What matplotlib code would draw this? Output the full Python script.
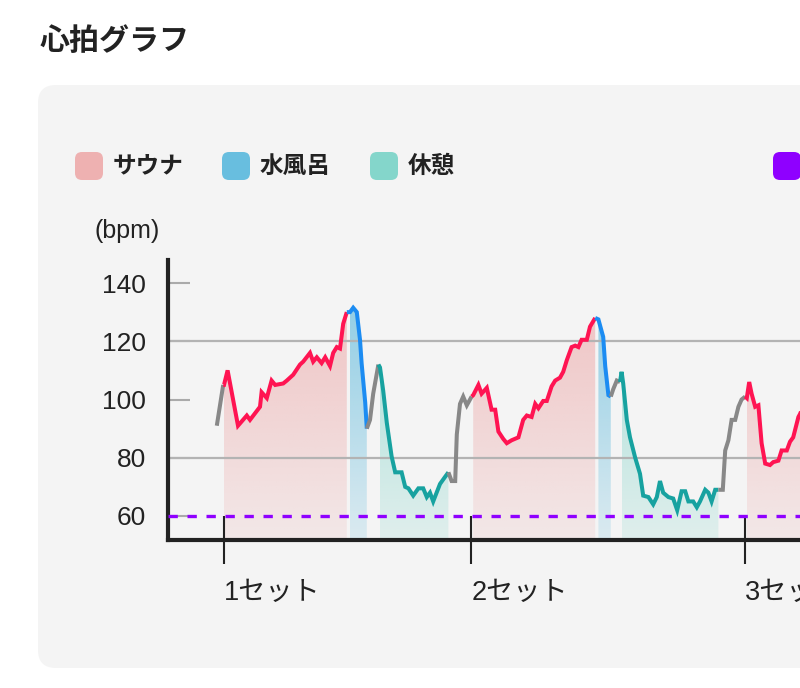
import matplotlib
matplotlib.use("Agg")
import matplotlib.pyplot as plt
import matplotlib.patches as mpatches
from matplotlib.transforms import IdentityTransform
from matplotlib.colors import to_rgb
import numpy as np

plt.rcParams['font.family'] = ['Liberation Sans', 'Noto Sans CJK JP']
JP = ['Noto Sans CJK JP', 'DejaVu Sans']

# heart rate samples (minutes from start, bpm)
minutes = [
    12.2, 13.8,
    14.0, 14.9, 17.5, 19.7, 20.5, 23.0, 23.4, 24.7, 25.9, 26.8, 28.8, 29.7, 31.3,
    33.0, 33.8, 35.5, 36.3, 37.2, 38.4, 39.3, 40.5, 41.3, 42.2, 43.0, 43.8, 44.7,
    45.5, 46.3, 47.2, 48.0, 48.4, 49.3, 49.7,
    50.5, 51.3, 52.6,
    53.0, 53.8, 54.7, 55.9, 56.8, 57.6, 58.4, 59.3, 60.1, 61.3, 62.6, 63.8, 64.7,
    65.5, 66.3, 68.0, 69.3, 70.1,
    70.9, 71.8, 72.2, 73.0, 73.8, 74.7, 75.9,
    76.3, 77.6, 78.4, 79.7, 80.9, 81.8, 82.6, 83.8, 84.7, 85.9, 87.6, 88.8, 89.7,
    90.9, 91.8, 92.6, 93.8, 94.7, 95.9, 96.8, 98.0, 98.8, 99.7, 100.9, 101.8, 102.6,
    103.4, 104.7, 105.5, 106.8,
    107.6, 108.8, 109.3, 110.1, 110.7,
    111.3, 112.2, 113.0,
    113.4, 113.8, 114.7, 115.5, 116.8, 118.0, 118.8, 120.1, 121.3, 122.2, 123.0,
    123.8, 125.1, 126.3, 127.3, 128.4, 129.3, 130.1, 131.3, 132.2, 133.0, 134.3,
    135.1, 135.9, 136.8, 137.6,
    138.7, 139.3, 140.1, 140.9, 141.8, 142.6, 143.4, 144.3,
    144.7, 145.3, 145.9, 146.8, 147.6, 148.4, 149.3, 150.5, 151.3, 152.6, 153.4,
    154.7, 155.5, 156.3, 157.6, 158.0, 159.5,
]
bpm = [
    91, 105,
    105, 110, 91, 94.5, 93, 97.5, 102.5, 100.5, 106.5, 105, 105.5, 106.5, 108.5,
    112, 113, 116, 113, 114.5, 112.5, 114.5, 111.5, 116, 118, 117.5, 126, 130,
    130, 131.5, 130, 120.5, 112.5, 99, 90,
    93, 102, 112,
    111, 103, 92, 80.5, 75, 75, 75, 70, 69.5, 67, 69.5, 69.5, 66.5,
    68, 65, 71, 73.5, 75,
    72, 72, 88, 98.5, 101, 98, 101,
    101.5, 105, 102, 104, 96.5, 96.5, 89, 86.5, 85, 86, 87, 93, 94.5,
    94, 98.5, 97, 99.5, 99.5, 104.5, 106.5, 107.5, 109.5, 113.5, 118, 118.5, 118,
    120.5, 120.5, 125, 128,
    127.5, 121.5, 111.5, 101.5, 101,
    103.5, 106.5, 106,
    109.5, 105.5, 93, 87, 80, 74.5, 67, 66.5, 64, 66.5, 72,
    68, 66.5, 66, 62, 68.5, 68.5, 65, 65, 63, 65, 69,
    68, 65, 69, 69,
    69, 82.5, 86, 93, 93, 97.5, 100, 101,
    100.5, 106, 102, 97.5, 98, 85, 78, 77.5, 78.5, 79, 82.5,
    82.5, 85.5, 87, 94, 95, 100,
]
phase_runs = [
    ("other", 2), ("sauna", 26), ("cold", 7), ("other", 3), ("rest", 18), ("other", 7),
    ("sauna", 30), ("cold", 5), ("other", 3), ("rest", 26), ("other", 8),
    ("sauna", 17),
]
set_starts = [14.0, 75.8, 144.3]
set_labels = ["1セット", "2セット", "3セット"]
resting_hr = 60
zone_lines = [80, 120]
y_ticks = [60, 80, 100, 120, 140]

legend_labels = ["サウナ", "水風呂", "休憩", ""]
legend_colors = ["#eeb1b1", "#68bedf", "#84d6cb", "#8f00ff"]
line_colors = {"other": "#888888", "sauna": "#ff1452", "cold": "#1c8cf2", "rest": "#17a2a0"}
fill_colors = {"sauna": "#eeb0b0", "cold": "#68bedf", "rest": "#84d6cb"}

fig = plt.figure(figsize=(8, 6.88), dpi=100)
fig.patch.set_facecolor("white")

# grey card behind everything (pixel coords)
card = mpatches.FancyBboxPatch((38, 20), 1000, 583, boxstyle="round,pad=0,rounding_size=18",
                               transform=IdentityTransform(), facecolor="#f4f4f4",
                               edgecolor="none", zorder=-5)
fig.add_artist(card)

fig.text(40 / 800, 1 - 41 / 688, "心拍グラフ", fontsize=21.6, fontweight="bold",
         family=JP, va="center", color="#222222")

# legend
leg_x = [75, 222, 370, 773]
for x, lab, c in zip(leg_x, legend_labels, legend_colors):
    sq = mpatches.FancyBboxPatch((x, 688 - 180), 28, 28, boxstyle="round,pad=0,rounding_size=7",
                                 transform=IdentityTransform(), facecolor=c,
                                 edgecolor="none", zorder=2)
    fig.add_artist(sq)
    fig.text((x + 38) / 800, 1 - 166 / 688, lab, fontsize=17, fontweight="bold",
             family=JP, va="center", color="#222222")

fig.text(95 / 800, 1 - 231 / 688, "(bpm)", fontsize=18, va="center", color="#222222")

y_lo, y_hi = 51.76, 147.9
ax = fig.add_axes([0.21, 0.21512, 1.0, 0.40698])
ax.patch.set_alpha(0)

t = np.array(minutes)
h = np.array(bpm)
alpha = np.linspace(0.18, 0.8, 256)

start = 0
for phase, n in phase_runs:
    end = start + n
    s0 = max(start - 1, 0)
    ax.plot(t[s0:end], h[s0:end], color=line_colors[phase], lw=2.9, zorder=4,
            solid_joinstyle="miter", solid_capstyle="butt")
    if phase in fill_colors:
        tt, hh = t[start:end], h[start:end]
        verts = np.column_stack([np.r_[tt, tt[::-1]], np.r_[hh, np.full(len(tt), y_lo)]])
        clip = mpatches.Polygon(verts, closed=True, facecolor="none", edgecolor="none")
        ax.add_patch(clip)
        img = np.zeros((256, 1, 4))
        img[..., :3] = to_rgb(fill_colors[phase])
        img[:, 0, 3] = alpha
        im = ax.imshow(img, extent=[tt[0], tt[-1], y_lo, y_hi], origin="lower",
                       aspect="auto", zorder=1, interpolation="bilinear")
        im.set_clip_path(clip)
    start = end

for z in zone_lines:
    ax.axhline(z, color="#b3b3b3", lw=1.6, zorder=2)
ax.axhline(resting_hr, color="#8f00ff", lw=2.4, ls=(0, (2.8, 2.9)), zorder=3)

ax.set_xlim(0, 200)
ax.set_ylim(y_lo, y_hi)
ax.set_yticks(y_ticks)
ax.set_xticks(set_starts, set_labels)
for lab in ax.get_xticklabels():
    lab.set_ha("left")

ax.tick_params(axis="y", direction="in", length=16, width=1.5, color="#aaaaaa",
               labelsize=19, labelcolor="#222222", pad=16)
ax.tick_params(axis="x", direction="inout", length=34, width=1.5, color="#222222",
               labelsize=19.5, labelcolor="#222222", pad=12)

for side in ["top", "right"]:
    ax.spines[side].set_visible(False)
for side in ["left", "bottom"]:
    ax.spines[side].set_linewidth(3)
    ax.spines[side].set_color("#222222")

fig.savefig("out.png", dpi=100)
